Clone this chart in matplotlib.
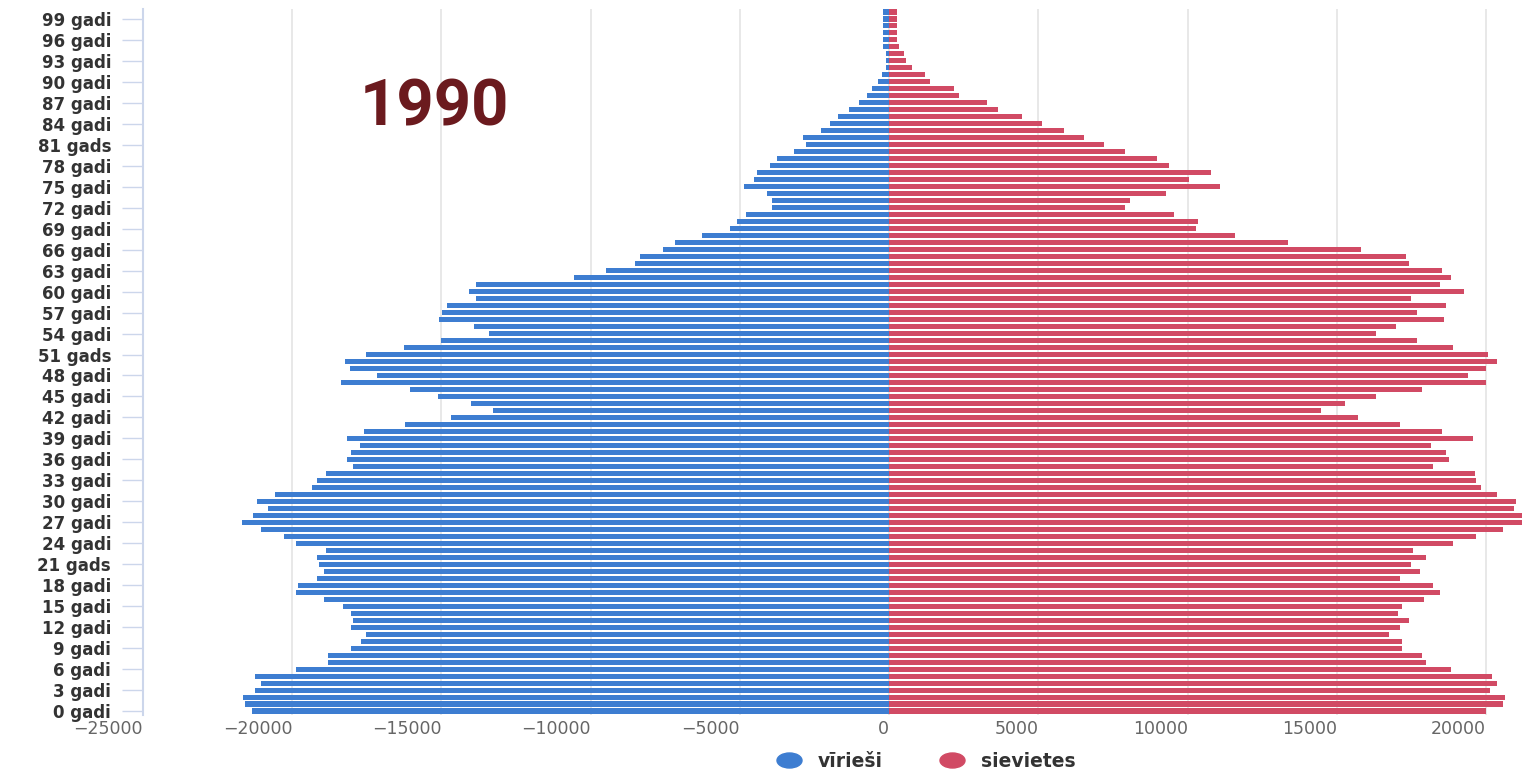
import numpy as np
import matplotlib
matplotlib.use("Agg")
import matplotlib.pyplot as plt
from matplotlib.lines import Line2D
from matplotlib.path import Path
from matplotlib.transforms import Affine2D

# vecums 0..100 gadi, iedzīvotāju skaits 1990. gadā
ages = np.arange(0, 101)

male = [21360, 21590, 21640, 21260, 21060, 21260, 19860, 18810, 18810, 18020,
        17700, 17540, 18020, 17970, 18020, 18300, 18950, 19860, 19800, 19170,
        18950, 19100, 19170, 18870, 19860, 20270, 21030, 21690, 21330, 20820,
        21180, 20570, 19330, 19170, 18870, 17950, 18160, 18020, 17720, 18160,
        17600, 16220, 14670, 13270, 14010, 15110, 16070, 18380, 17170, 18080,
        18230, 17540, 16240, 15030, 13420, 13910, 15070, 14970, 14820, 13850,
        14080, 13850, 10550, 9480, 8510, 8340, 7580, 7190, 6280, 5320,
        5110, 4810, 3920, 3920, 4090, 4880, 4530, 4420, 4010, 3760,
        3180, 2800, 2900, 2290, 1990, 1700, 1340, 1010, 740, 590,
        380, 250, 120, 120, 120, 200, 200, 200, 200, 200,
        200]

female = [19990, 20560, 20630, 20140, 20350, 20200, 18810, 17990, 17860, 17190,
          17190, 16740, 17110, 17410, 17040, 17190, 17930, 18450, 18230, 17110,
          17780, 17480, 17990, 17560, 18880, 19670, 20560, 21400, 21300, 20930,
          21000, 20350, 19840, 19670, 19630, 18230, 18740, 18660, 18160, 19550,
          18530, 17120, 15720, 14460, 15280, 16300, 17860, 19990, 19400, 19990,
          20350, 20050, 18880, 17690, 16300, 16990, 18580, 17690, 18660, 17480,
          19250, 18450, 18810, 18530, 17410, 17330, 15800, 13370, 11600, 10270,
          10350, 9540, 7910, 8060, 9260, 11080, 10040, 10790, 9390, 8960,
          7910, 7190, 6520, 5870, 5130, 4460, 3640, 3270, 2330, 2180,
          1380, 1210, 780, 560, 490, 340, 260, 260, 260, 260,
          260]

tick_ages = list(range(0, 100, 3))
tick_labels = ["0 gadi", "3 gadi", "6 gadi", "9 gadi", "12 gadi", "15 gadi",
               "18 gadi", "21 gads", "24 gadi", "27 gadi", "30 gadi", "33 gadi",
               "36 gadi", "39 gadi", "42 gadi", "45 gadi", "48 gadi", "51 gads",
               "54 gadi", "57 gadi", "60 gadi", "63 gadi", "66 gadi", "69 gadi",
               "72 gadi", "75 gadi", "78 gadi", "81 gads", "84 gadi", "87 gadi",
               "90 gadi", "93 gadi", "96 gadi", "99 gadi"]

x_ticks = [-25000, -20000, -15000, -10000, -5000, 0, 5000, 10000, 15000, 20000]
x_labels = ["\u221225000", "\u221220000", "\u221215000", "\u221210000", "\u22125000",
            "0", "5000", "10000", "15000", "20000"]

series_names = ["vīrieši", "sievietes"]
blue = "#3d7dd1"
red = "#d14a64"

fig = plt.figure(figsize=(15.22, 7.73), dpi=100)
ax = fig.add_axes([143 / 1522, 1 - 714.5 / 773, 1 - 143 / 1522, 706 / 773])

ax.barh(ages, -np.array(male), height=0.72, color=blue, zorder=2)
ax.barh(ages, female, height=0.72, color=red, zorder=2)

ax.set_xlim(-25000, 21200)
ax.set_ylim(-0.5, 100.5)

ax.set_xticks(x_ticks)
ax.set_xticklabels(x_labels, fontsize=12.5, color="#666666", ha="right")
ax.tick_params(axis="x", length=0, pad=4)

ax.set_yticks(tick_ages)
ax.set_yticklabels(tick_labels, fontsize=12, fontweight="bold", color="#333333")
ax.tick_params(axis="y", length=15, width=1, color="#ccd6eb", pad=8)

ax.xaxis.grid(True, color="#e6e6e6", linewidth=1.3)
ax.set_axisbelow(True)
for s in ["top", "right", "bottom"]:
    ax.spines[s].set_visible(False)
ax.spines["left"].set_color("#ccd6eb")
ax.spines["left"].set_linewidth(1.5)

fig.text(360 / 1522, 1 - 125 / 773, "1990", fontsize=47, fontweight="bold",
         family=["Roboto", "DejaVu Sans"], color="#6b1a1e",
         ha="left", va="baseline")

# legenda ar ovāliem marķieriem
ell = Path.unit_circle().transformed(Affine2D().scale(1.0, 0.6))
handles = [Line2D([], [], ls="none", marker=ell, markersize=18, color=blue),
           Line2D([], [], ls="none", marker=ell, markersize=18, color=red)]
fig.legend(handles, series_names, loc="center", bbox_to_anchor=(0.608, 0.0155),
           ncol=2, frameon=False, handlelength=1.5, handletextpad=0.8,
           columnspacing=2.95, prop={"size": 13.5, "weight": "bold"},
           labelcolor="#333333")

fig.savefig("out.png", dpi=100)
